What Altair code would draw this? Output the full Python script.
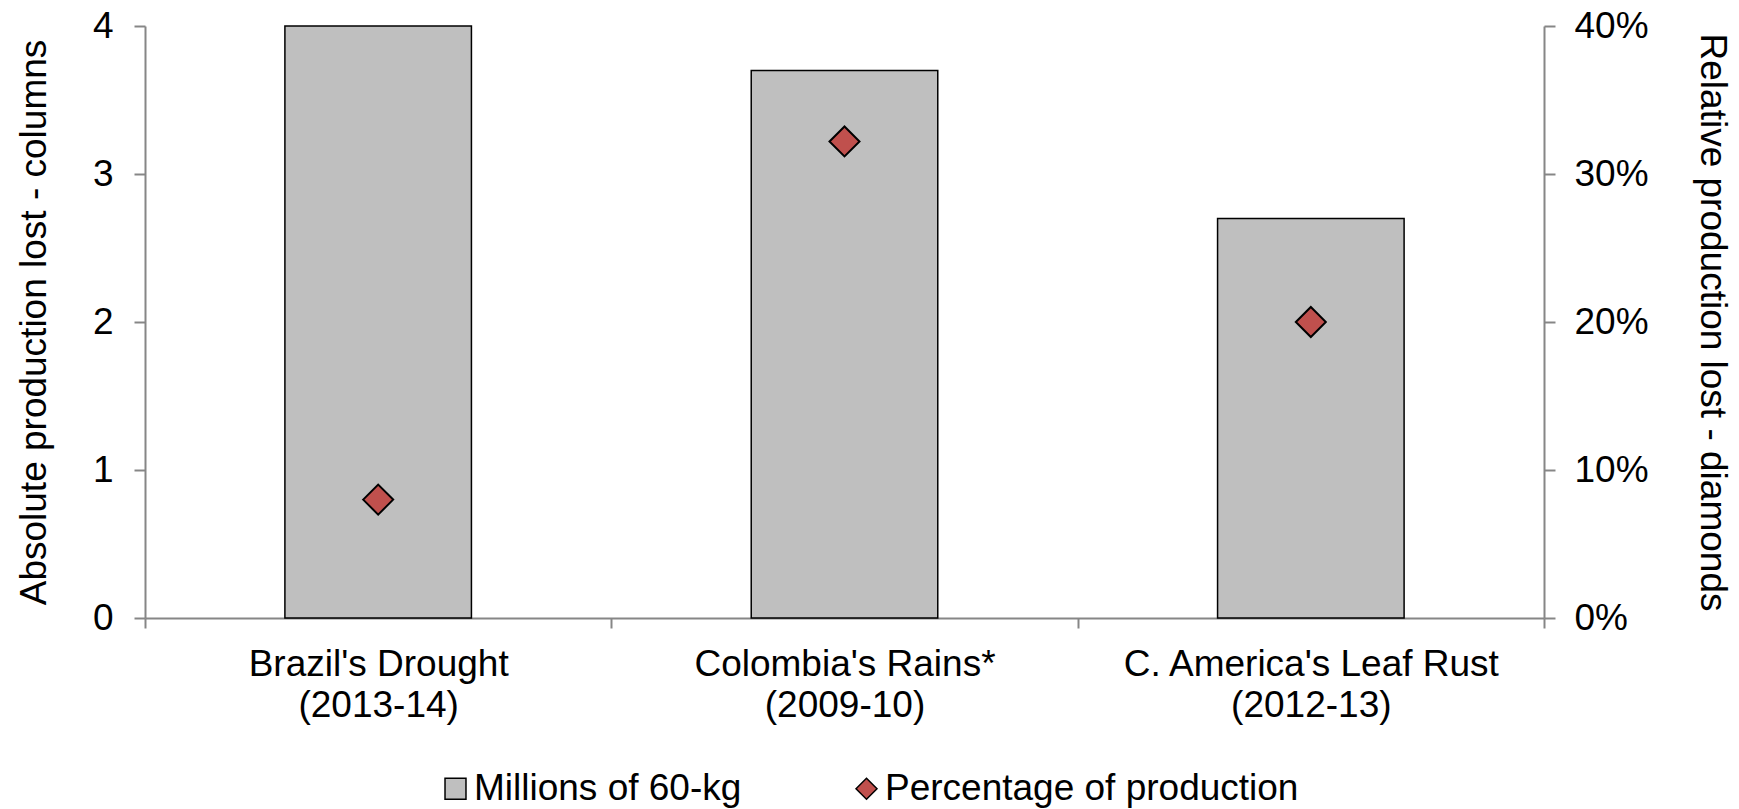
import altair as alt
import pandas as pd

# Production losses from three weather / disease events
events = ["Brazil's Drought", "Colombia's Rains*", "C. America's Leaf Rust"]
seasons = ["(2013-14)", "(2009-10)", "(2012-13)"]
millions_lost = [4.0, 3.7, 2.7]          # millions of 60-kg bags
share_lost = [0.08, 0.322, 0.20]         # share of production

left_ticks = [0, 1, 2, 3, 4]
right_ticks = [0.0, 0.1, 0.2, 0.3, 0.4]
series_names = ["Millions of 60-kg", "Percentage of production"]

labels = [f"{e}|{s}" for e, s in zip(events, seasons)]

bars_df = pd.DataFrame({"event": labels, "value": millions_lost,
                        "series": series_names[0]})
pts_df = pd.DataFrame({"event": labels, "value": share_lost,
                       "series": series_names[1]})

FONT = "Liberation Sans"
FS = 37
GREY = "#868686"

W, H = 1399, 592
PAD = {"left": 145, "top": 26, "right": 1739 - 145 - W, "bottom": 809 - 26 - H}

x_enc = alt.X(
    "event:N",
    sort=labels,
    scale=alt.Scale(paddingInner=0, paddingOuter=0),
    axis=alt.Axis(
        title=None,
        labelAngle=0,
        labelLimit=0,
        tickBand="extent",
        labelExpr="split(datum.label, '|')",
        labelLineHeight=41,
        labelPadding=18,
        tickSize=10,
    ),
)

color_scale = alt.Scale(domain=series_names, range=["#BFBFBF", "#C0504D"])
shape_scale = alt.Scale(domain=series_names, range=["square", "diamond"])

legend = alt.Legend(
    title=None,
    orient="none",
    direction="horizontal",
    legendX=292,
    legendY=744,
    columnPadding=106,
    labelOffset=0,
    symbolSize=440,
    symbolStrokeColor="black",
    symbolStrokeWidth=1.5,
    padding=0,
)

bars = alt.Chart(bars_df).mark_bar(
    width=alt.RelativeBandSize(0.4), stroke="black", strokeWidth=1.5
).encode(
    x=x_enc,
    y=alt.Y(
        "value:Q",
        scale=alt.Scale(domain=[0, 4], nice=False, zero=True),
        axis=alt.Axis(
            title="Absolute production lost - columns",
            values=left_ticks,
            format="d",
            tickSize=11,
            labelPadding=21,
            titleX=-100,
            titleY=H / 2,
            titleAlign="center",
            titleBaseline="alphabetic",
            titleAngle=270,
        ),
    ),
    color=alt.Color("series:N", scale=color_scale, legend=legend),
)

points = alt.Chart(pts_df).mark_point(
    shape="diamond", filled=True, size=900, stroke="black", strokeWidth=2, opacity=1
).encode(
    x=x_enc,
    y=alt.Y(
        "value:Q",
        scale=alt.Scale(domain=[0, 0.4], nice=False, zero=True),
        axis=alt.Axis(
            title="Relative production lost - diamonds",
            orient="right",
            values=right_ticks,
            format=".0%",
            tickSize=11,
            labelPadding=19,
            titleX=156,
            titleY=H / 2,
            titleAlign="center",
            titleBaseline="alphabetic",
            titleAngle=90,
        ),
    ),
    color=alt.Color("series:N", scale=color_scale, legend=legend),
    shape=alt.Shape("series:N", scale=shape_scale, legend=legend),
)

chart = (
    alt.layer(bars, points)
    .resolve_scale(y="independent")
    .properties(
        width=W,
        height=H,
        autosize=alt.AutoSizeParams(type="none"),
        padding=PAD,
        background="white",
    )
    .configure_view(stroke=None)
    .configure_axis(
        grid=False,
        domainColor=GREY,
        domainWidth=2,
        tickColor=GREY,
        tickWidth=2,
        labelFont=FONT,
        labelFontSize=FS,
        labelColor="black",
        titleFont=FONT,
        titleFontSize=FS,
        titleFontWeight="normal",
        titleColor="black",
    )
    .configure_legend(
        labelFont=FONT,
        labelFontSize=FS,
        labelColor="black",
        labelLimit=0,
    )
)

chart.save("out.html", embed_options={"renderer": "svg", "actions": False})
